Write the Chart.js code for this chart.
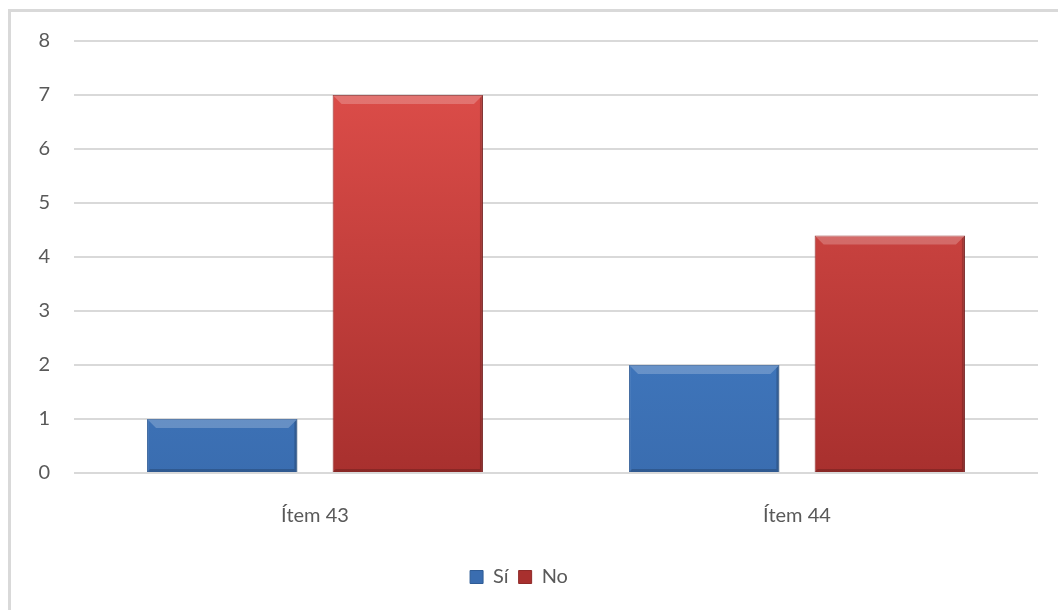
<!DOCTYPE html>
<html>
<head>
<meta charset="utf-8">
<script src="https://cdn.jsdelivr.net/npm/chart.js@4.4.1/dist/chart.umd.min.js"></script>
<style>
  html, body { margin: 0; padding: 0; background: #fff; }
  #wrap { position: relative; width: 1058px; height: 610px; overflow: hidden; }
  #frame { position: absolute; left: 8px; top: 9px; right: -10px; bottom: -10px;
           border-top: 3px solid #d9d9d9; border-left: 3px solid #d9d9d9; }
  canvas { position: absolute; left: 0; top: 0; }
</style>
</head>
<body>
<div id="wrap">
  <div id="frame"></div>
  <canvas id="chart" width="1058" height="610"></canvas>
</div>
<script>
// datos
const categorias = ['Ítem 43', 'Ítem 44'];
const valoresSi = [1, 2];
const valoresNo = [7, 4.4];
const ticksY = [0, 1, 2, 3, 4, 5, 6, 7, 8];

function degradado(ctx, arriba, abajo) {
    const area = ctx.chart.chartArea;
    if (!area) return arriba;
    const g = ctx.chart.ctx.createLinearGradient(0, area.top, 0, area.bottom);
    g.addColorStop(0, arriba);
    g.addColorStop(1, abajo);
    return g;
}

// biselado simple encima de cada barra
const bisel = {
    id: 'bisel',
    afterDatasetsDraw(chart) {
        const c = chart.ctx;
        chart.data.datasets.forEach((ds, i) => {
            chart.getDatasetMeta(i).data.forEach(bar => {
                const x0 = bar.x - bar.width / 2, x1 = bar.x + bar.width / 2;
                const y0 = bar.y, y1 = bar.base, b = 9;
                c.save();
                c.fillStyle = 'rgba(255,255,255,0.22)';
                c.beginPath();
                c.moveTo(x0, y0); c.lineTo(x1, y0); c.lineTo(x1 - b, y0 + b); c.lineTo(x0 + b, y0 + b);
                c.closePath(); c.fill();
                c.fillStyle = 'rgba(0,0,0,0.18)';
                c.beginPath();
                c.moveTo(x1, y0); c.lineTo(x1, y1); c.lineTo(x1 - 3, y1 - 3); c.lineTo(x1 - 3, y0 + 3);
                c.closePath(); c.fill();
                c.beginPath();
                c.moveTo(x0, y1); c.lineTo(x1, y1); c.lineTo(x1 - 3, y1 - 3); c.lineTo(x0 + 3, y1 - 3);
                c.closePath(); c.fill();
                c.restore();
            });
        });
    }
};

const ctx = document.getElementById('chart').getContext('2d');
const chart = new Chart(ctx, {
    type: 'bar',
    data: {
        labels: categorias,
        datasets: [{
            label: 'Sí',
            data: valoresSi,
            backgroundColor: c => degradado(c, '#4a8ad6', '#3a6db0'),
            borderColor: '#2f5c96',
            borderWidth: 1
        }, {
            label: 'No',
            data: valoresNo,
            backgroundColor: c => degradado(c, '#e2504c', '#a8302e'),
            borderColor: '#8f2a28',
            borderWidth: 1
        }]
    },
    plugins: [bisel],
    options: {
        responsive: false,
        animation: false,
        categoryPercentage: 0.77,
        barPercentage: 0.81,
        layout: { padding: { top: 41, right: 20, bottom: 13, left: 0 } },
        scales: {
            x: {
                grid: { display: false },
                border: { display: false },
                ticks: { color: '#595959', font: { family: 'Lato', size: 20 }, padding: 23 },
                afterFit: function(scale) { scale.height = 84; }
            },
            y: {
                min: 0,
                max: 8,
                afterBuildTicks: function(scale) { scale.ticks = ticksY.map(v => ({ value: v })); },
                grid: { color: '#d9d9d9', lineWidth: 2, drawTicks: false },
                border: { display: false },
                ticks: { color: '#595959', font: { family: 'Lato', size: 20 }, padding: 24 },
                afterFit: function(scale) { scale.width = 74; }
            }
        },
        plugins: {
            legend: {
                position: 'bottom',
                labels: {
                    color: '#595959',
                    font: { family: 'Lato', size: 20 },
                    boxWidth: 13,
                    boxHeight: 13,
                    padding: 10
                }
            },
            tooltip: { enabled: false }
        }
    }
});
</script>
</body>
</html>
